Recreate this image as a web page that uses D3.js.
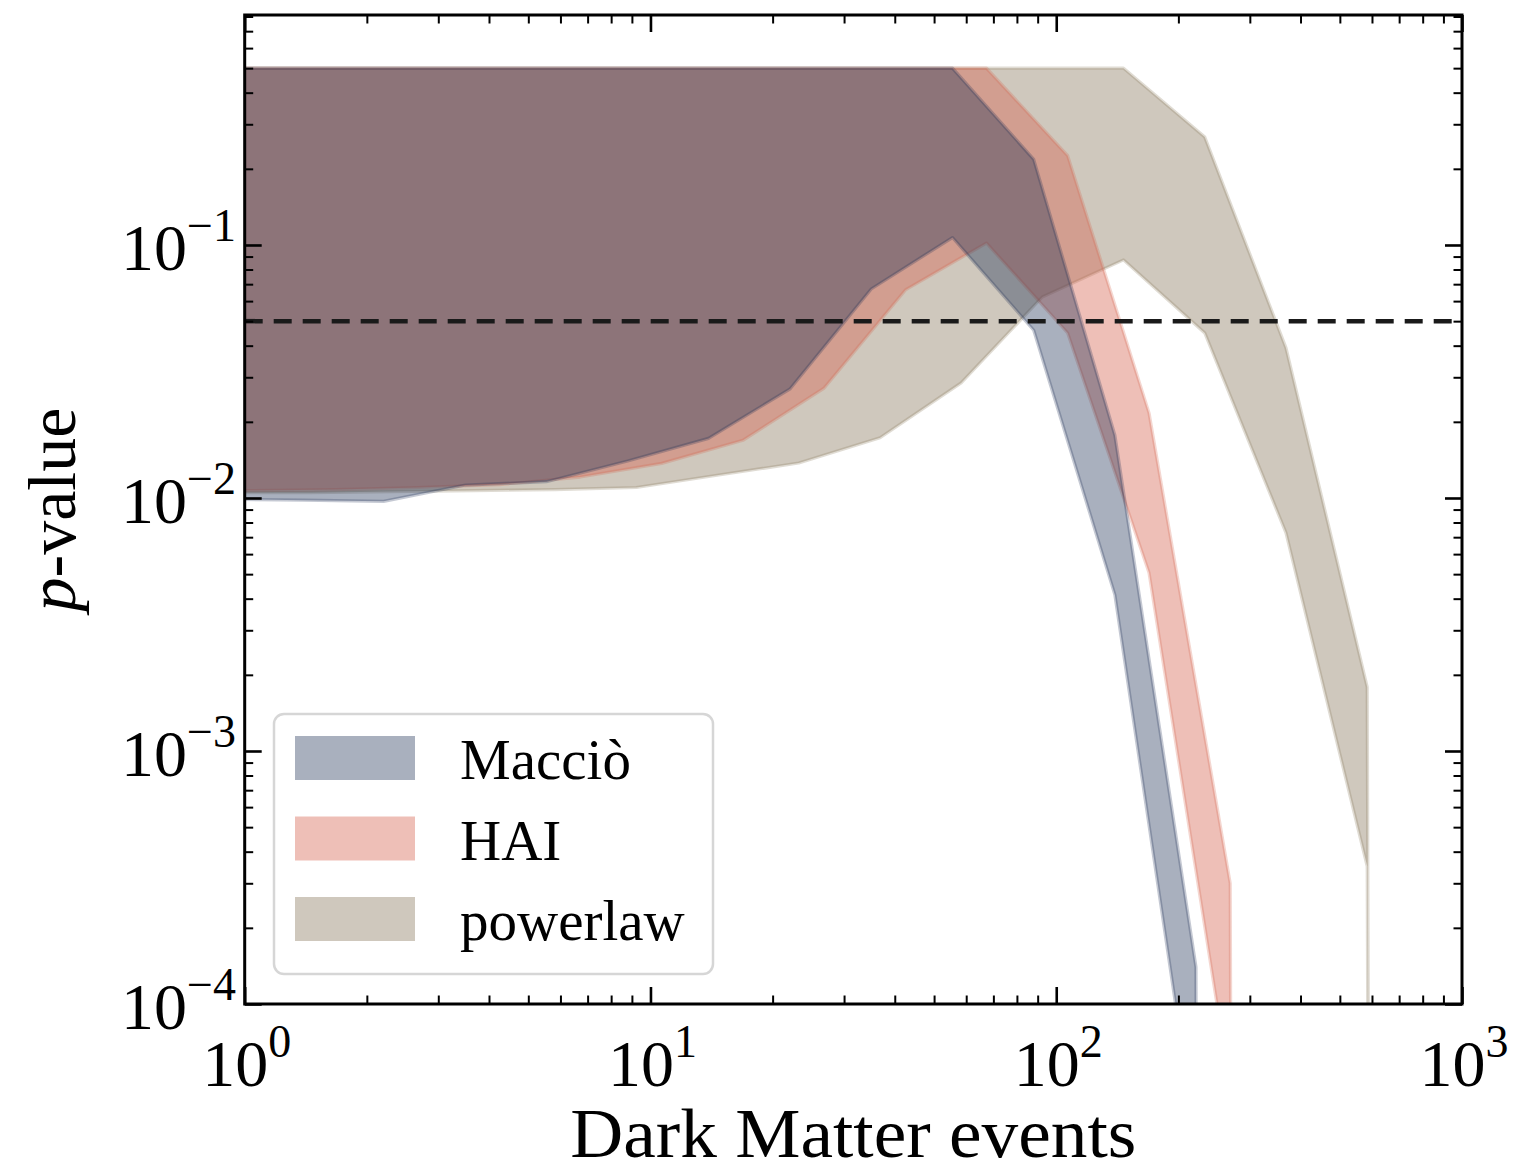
<!DOCTYPE html>
<html>
<head>
<script src="https://d3js.org/d3.v7.min.js"></script>
<style>
  body { margin: 0; background: white; }
  text { font-family: "Liberation Serif", "DejaVu Serif", serif; fill: #000; }
</style>
</head>
<body>
<svg id="chart"></svg>
<script>
// DM event counts and p-value band edges per model
const maccioEvents = [0.877, 1.39, 2.2, 3.5, 5.54, 8.79, 13.9, 22.1, 35.0, 55.5, 88.0, 139.5, 221, 350];
const maccioUpper  = [0.5, 0.5, 0.5, 0.5, 0.5, 0.5, 0.5, 0.5, 0.5, 0.5, 0.218, 0.0177, 1.4e-4, 0];
const maccioLower  = [0.0099, 0.0098, 0.0097, 0.01125, 0.0116, 0.014, 0.0172, 0.027, 0.067, 0.107, 0.046, 0.00414, 2.85e-5, 0];

const haiEvents = [0.671, 1.064, 1.687, 2.675, 4.24, 6.72, 10.66, 16.9, 26.8, 42.5, 67.3, 106.7, 169.3, 268.4, 425.4];
const haiUpper  = [0.5, 0.5, 0.5, 0.5, 0.5, 0.5, 0.5, 0.5, 0.5, 0.5, 0.5, 0.2255, 0.0217, 3.0e-4, 0];
const haiLower  = [0.0107, 0.0107, 0.0108, 0.011, 0.0113, 0.0121, 0.0137, 0.0169, 0.0272, 0.0664, 0.1018, 0.0449, 0.00506, 4.65e-5, 0];

const powerEvents = [0.92, 1.46, 2.315, 3.67, 5.82, 9.23, 14.6, 23.2, 36.8, 58.3, 92.4, 146.5, 232.3, 368.3, 584, 925.6];
const powerUpper  = [0.5, 0.5, 0.5, 0.5, 0.5, 0.5, 0.5, 0.5, 0.5, 0.5, 0.5, 0.5, 0.267, 0.0392, 1.79e-3, 0];
const powerLower  = [0.0105, 0.0105, 0.0106, 0.0107, 0.0108, 0.011, 0.0123, 0.01375, 0.0173, 0.0285, 0.0623, 0.0873, 0.0449, 0.00728, 3.5e-4, 0];

const modelNames  = ['Macciò', 'HAI', 'powerlaw'];
const modelColors = ['#1d2f54', '#d6634f', '#87765a'];   // drawn translucent
const modelAlpha  = [0.38, 0.41, 0.40];
const threshold = 0.05;

const xMajor = [0, 1, 2, 3];        // exponents
const yMajor = [-4, -3, -2, -1];

const W = 1516, H = 1174;
const L = 244.7, R = 1462, T = 15, B = 1004;

let svg = d3.select('#chart').attr('width', W).attr('height', H);
svg.append('rect').attr('width', W).attr('height', H).attr('fill', 'white');

let x = d3.scaleLog().domain([1, 1000]).range([L, R]);
let y = d3.scaleLog().domain([1e-4, 0.811]).range([B, T]);

svg.append('clipPath').attr('id', 'plotclip')
   .append('rect').attr('x', L).attr('y', T).attr('width', R - L).attr('height', B - T);

// zeros on a log axis fall far below, like matplotlib clipping them
const floorP = p => Math.max(p, 1e-100);

let models = [
  {ev: maccioEvents, up: maccioUpper, lo: maccioLower},
  {ev: haiEvents, up: haiUpper, lo: haiLower},
  {ev: powerEvents, up: powerUpper, lo: powerLower}
];

// powerlaw first, Macciò on top
let bands = svg.append('g').attr('clip-path', 'url(#plotclip)');
[2, 1, 0].forEach(i => {
  let m = models[i];
  let pts = m.ev.map((e, j) => ({e: e, u: m.up[j], l: m.lo[j]}));
  let area = d3.area()
      .x(d => x(d.e))
      .y0(d => y(floorP(d.l)))
      .y1(d => y(floorP(d.u)));
  bands.append('path')
       .attr('d', area(pts))
       .attr('fill', modelColors[i])
       .attr('fill-opacity', modelAlpha[i]);
  bands.append('path')
       .attr('d', area(pts))
       .attr('fill', 'none')
       .attr('stroke', modelColors[i])
       .attr('stroke-opacity', 0.26)
       .attr('stroke-width', 3.2)
       .attr('stroke-linejoin', 'round');
});

// p = 0.05 line
svg.append('line')
   .attr('x1', L).attr('x2', R)
   .attr('y1', y(threshold)).attr('y2', y(threshold))
   .attr('stroke', '#1a1a1a').attr('stroke-width', 4.5)
   .attr('stroke-dasharray', '18,11');

// ticks, all pointing inward
let xMinor = [], yMinor = [];
for (let k = 0; k < 3; k++) for (let m = 2; m <= 9; m++) xMinor.push(m * Math.pow(10, k));
for (let k = -4; k < 0; k++) for (let m = 2; m <= 9; m++) {
  let v = m * Math.pow(10, k);
  if (v < 0.811) yMinor.push(v);
}
const xMajorV = xMajor.map(e => Math.pow(10, e));
const yMajorV = yMajor.map(e => Math.pow(10, e));

function ticks(axisFn, scale, vals, size, pos, sw) {
  let g = svg.append('g').attr('transform', pos)
     .call(axisFn(scale).tickValues(vals).tickSize(-size).tickFormat(''));
  g.select('.domain').remove();
  g.selectAll('.tick line').attr('stroke', '#000').attr('stroke-width', sw);
}
ticks(d3.axisBottom, x, xMajorV, 17, `translate(0,${B})`, 2.6);
ticks(d3.axisBottom, x, xMinor, 8.5, `translate(0,${B})`, 2);
ticks(d3.axisTop, x, xMajorV, 17, `translate(0,${T})`, 2.6);
ticks(d3.axisTop, x, xMinor, 8.5, `translate(0,${T})`, 2);
ticks(d3.axisLeft, y, yMajorV, 17, `translate(${L},0)`, 2.6);
ticks(d3.axisLeft, y, yMinor, 8.5, `translate(${L},0)`, 2);
ticks(d3.axisRight, y, yMajorV, 17, `translate(${R},0)`, 2.6);
ticks(d3.axisRight, y, yMinor, 8.5, `translate(${R},0)`, 2);

svg.append('rect')
   .attr('x', L).attr('y', T).attr('width', R - L).attr('height', B - T)
   .attr('fill', 'none').attr('stroke', '#000').attr('stroke-width', 3);

// tick labels 10^n
function powLabel(g, e) {
  g.append('tspan').text('10');
  g.append('tspan').attr('dy', -29).attr('font-size', 46)
   .text(e < 0 ? '\u2212' + (-e) : String(e));
}
xMajor.forEach(e => {
  let t = svg.append('text')
     .attr('x', x(Math.pow(10, e)) + 2).attr('y', 1086)
     .attr('text-anchor', 'middle').attr('font-size', 66);
  powLabel(t, e);
});
yMajor.forEach(e => {
  let t = svg.append('text')
     .attr('x', 236).attr('y', y(Math.pow(10, e)) + 25)
     .attr('text-anchor', 'end').attr('font-size', 66);
  powLabel(t, e);
});

// axis titles
svg.append('text')
   .attr('x', (L + R) / 2).attr('y', 1157)
   .attr('text-anchor', 'middle').attr('font-size', 70)
   .attr('textLength', 566).attr('lengthAdjust', 'spacingAndGlyphs')
   .text('Dark Matter events');

let yl = svg.append('text')
   .attr('transform', `translate(75,${(T + B) / 2}) rotate(-90)`)
   .attr('text-anchor', 'middle').attr('font-size', 68);
yl.append('tspan').attr('font-style', 'italic').text('p');
yl.append('tspan').text('-value');

// legend
let leg = svg.append('g');
leg.append('rect')
   .attr('x', 274).attr('y', 714).attr('width', 439).attr('height', 260)
   .attr('rx', 10)
   .attr('fill', 'white').attr('fill-opacity', 0.85)
   .attr('stroke', '#d6d6d6').attr('stroke-width', 2.5);
modelNames.forEach((name, i) => {
  let cy = 758 + i * 80.5;
  leg.append('rect')
     .attr('x', 295).attr('y', cy - 22).attr('width', 120).attr('height', 44)
     .attr('fill', modelColors[i]).attr('fill-opacity', modelAlpha[i]);
  leg.append('text')
     .attr('x', 460).attr('y', cy + 21)
     .attr('font-size', 57)
     .text(name);
});
</script>
</body>
</html>
